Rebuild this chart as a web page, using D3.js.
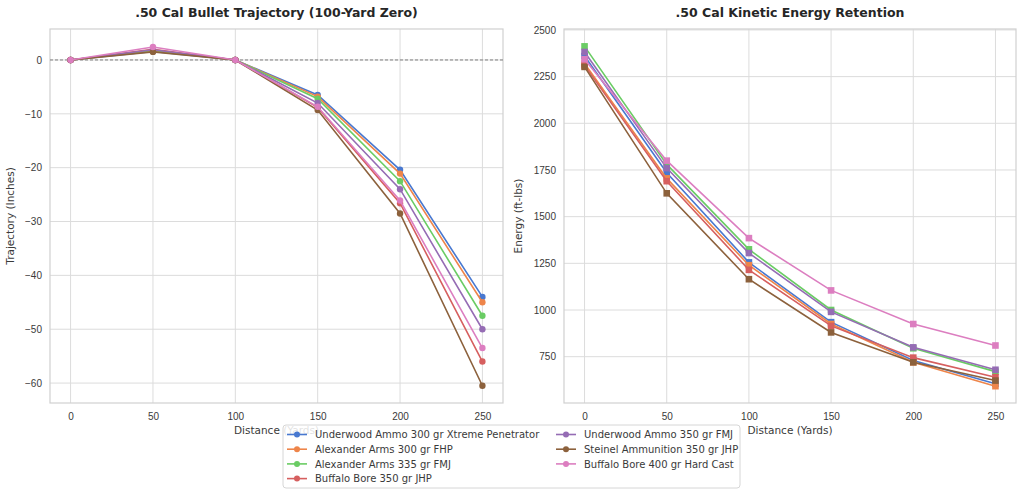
<!DOCTYPE html>
<html>
<head>
<meta charset="utf-8">
<script src="https://cdn.jsdelivr.net/npm/d3@7"></script>
<style>
  body { margin: 0; background: #fff; font-family: "DejaVu Sans", sans-serif; }
  .grid line { stroke: #dcdcdc; stroke-width: 1; }
  .tick text { fill: #3a3a3a; font-size: 10px; }
</style>
</head>
<body>
<svg id="chart" width="1024" height="495"></svg>
<script>
// distances (yards)
const distances = [0, 50, 100, 150, 200, 250];

const loads = [
  "Underwood Ammo 300 gr Xtreme Penetrator",
  "Alexander Arms 300 gr FHP",
  "Alexander Arms 335 gr FMJ",
  "Buffalo Bore 350 gr JHP",
  "Underwood Ammo 350 gr FMJ",
  "Steinel Ammunition 350 gr JHP",
  "Buffalo Bore 400 gr Hard Cast"
];

const colors = ["#4878d0", "#ee854a", "#6acc64", "#d65f5f", "#956cb4", "#8c613c", "#dc7ec0"];

// trajectory (inches), one array per load
const trajUnderwood300 = [0, 1.6, 0, -6.5, -20.4, -44.0];
const trajAlex300 = [0, 1.7, 0, -6.8, -21.1, -45.0];
const trajAlex335 = [0, 1.8, 0, -7.2, -22.5, -47.5];
const trajBuffalo350 = [0, 2.0, 0, -8.8, -26.6, -56.0];
const trajUnderwood350 = [0, 1.9, 0, -8.0, -24.0, -50.0];
const trajSteinel350 = [0, 1.5, 0, -9.3, -28.5, -60.5];
const trajBuffalo400 = [0, 2.4, 0, -8.7, -26.1, -53.5];

// energy (ft-lbs)
const enUnderwood300 = [2360, 1735, 1255, 935, 730, 605];
const enAlex300 = [2320, 1705, 1240, 925, 720, 592];
const enAlex335 = [2412, 1780, 1325, 1000, 795, 670];
const enBuffalo350 = [2310, 1690, 1215, 915, 745, 640];
const enUnderwood350 = [2382, 1760, 1305, 990, 800, 680];
const enSteinel350 = [2302, 1625, 1165, 880, 720, 622];
const enBuffalo400 = [2343, 1800, 1385, 1105, 925, 810];

const trajectories = [trajUnderwood300, trajAlex300, trajAlex335, trajBuffalo350, trajUnderwood350, trajSteinel350, trajBuffalo400];
const energies = [enUnderwood300, enAlex300, enAlex335, enBuffalo350, enUnderwood350, enSteinel350, enBuffalo400];

const yTicksTraj = [0, -10, -20, -30, -40, -50, -60];
const yTicksEnergy = [750, 1000, 1250, 1500, 1750, 2000, 2250, 2500];

const svg = d3.select('#chart');

function drawPanel(opts) {
    let { left, right, top, bottom, series, yDomain, yTicks, title, yLabel, marker } = opts;
    let x = d3.scaleLinear().domain([-12.5, 262.5]).range([left, right]);
    let y = d3.scaleLinear().domain(yDomain).range([bottom, top]);

    let g = svg.append('g');

    // grid
    let grid = g.append('g').classed('grid', true);
    grid.selectAll('.vx').data(distances).enter().append('line')
        .attr('x1', d => x(d)).attr('x2', d => x(d))
        .attr('y1', top).attr('y2', bottom);
    grid.selectAll('.hy').data(yTicks).enter().append('line')
        .attr('x1', left).attr('x2', right)
        .attr('y1', d => y(d)).attr('y2', d => y(d));

    // frame
    g.append('rect')
        .attr('x', left).attr('y', top)
        .attr('width', right - left).attr('height', bottom - top)
        .attr('fill', 'none').attr('stroke', '#d0d0d0').attr('stroke-width', 1.2);

    // axes
    g.append('g')
        .attr('transform', `translate(0,${bottom})`)
        .call(d3.axisBottom(x).tickValues(distances).tickSize(0).tickPadding(10))
        .call(a => a.select('.domain').remove());
    g.append('g')
        .attr('transform', `translate(${left},0)`)
        .call(d3.axisLeft(y).tickValues(yTicks).tickSize(0).tickPadding(8)
            .tickFormat(d => d < 0 ? '\u2212' + Math.abs(d) : d))
        .call(a => a.select('.domain').remove());

    if (opts.zeroLine) {
        g.append('line')
            .attr('x1', left).attr('x2', right)
            .attr('y1', y(0)).attr('y2', y(0))
            .attr('stroke', '#808080').attr('stroke-width', 1)
            .attr('stroke-dasharray', '3,2');
    }

    let line = d3.line().x((d, i) => x(distances[i])).y(d => y(d));

    series.forEach((vals, k) => {
        g.append('path')
            .attr('d', line(vals))
            .attr('fill', 'none')
            .attr('stroke', colors[k])
            .attr('stroke-width', 1.6);
        if (marker === 'circle') {
            g.selectAll(null).data(vals).enter().append('circle')
                .attr('cx', (d, i) => x(distances[i]))
                .attr('cy', d => y(d))
                .attr('r', 3.2)
                .attr('fill', colors[k]);
        } else {
            g.selectAll(null).data(vals).enter().append('rect')
                .attr('x', (d, i) => x(distances[i]) - 3.3)
                .attr('y', d => y(d) - 3.3)
                .attr('width', 6.6).attr('height', 6.6)
                .attr('fill', colors[k]);
        }
    });

    g.append('text')
        .attr('x', (left + right) / 2).attr('y', top - 12)
        .attr('text-anchor', 'middle')
        .attr('font-size', 12.5).attr('font-weight', 'bold').attr('fill', '#262626')
        .text(title);

    g.append('text')
        .attr('x', (left + right) / 2).attr('y', bottom + 31)
        .attr('text-anchor', 'middle')
        .attr('font-size', 10.5).attr('fill', '#3a3a3a')
        .text('Distance (Yards)');

    g.append('text')
        .attr('transform', `translate(${opts.yLabelX},${(top + bottom) / 2}) rotate(-90)`)
        .attr('text-anchor', 'middle')
        .attr('font-size', 10.5).attr('fill', '#3a3a3a')
        .text(yLabel);
}

drawPanel({
    left: 50, right: 503, top: 29, bottom: 403,
    series: trajectories, yDomain: [-63.7, 5.75], yTicks: yTicksTraj,
    title: '.50 Cal Bullet Trajectory (100-Yard Zero)',
    yLabel: 'Trajectory (Inches)', yLabelX: 14, marker: 'circle', zeroLine: true
});

drawPanel({
    left: 564, right: 1016, top: 29, bottom: 403,
    series: energies, yDomain: [502, 2505], yTicks: yTicksEnergy,
    title: '.50 Cal Kinetic Energy Retention',
    yLabel: 'Energy (ft-lbs)', yLabelX: 522, marker: 'square'
});

// legend
let legend = svg.append('g');
let lx = 283, ly = 425, lw = 457, lh = 63;
legend.append('rect')
    .attr('x', lx).attr('y', ly).attr('width', lw).attr('height', lh)
    .attr('rx', 3)
    .attr('fill', 'rgba(255,255,255,0.85)').attr('stroke', '#d6d6d6');

let items = legend.selectAll('.item')
    .data(loads)
    .enter()
    .append('g')
    .attr('transform', (d, i) => {
        let col = i < 4 ? 0 : 1;
        let row = i < 4 ? i : i - 4;
        return `translate(${lx + 4 + col * 269},${ly + 9.5 + row * 14.7})`;
    });

items.append('line')
    .attr('x1', 0).attr('x2', 20)
    .attr('stroke', (d, i) => colors[i]).attr('stroke-width', 1.6);
items.append('circle')
    .attr('cx', 10).attr('r', 3)
    .attr('fill', (d, i) => colors[i]);
items.append('text')
    .attr('x', 28).attr('y', 3.6)
    .attr('font-size', 10).attr('fill', '#3a3a3a')
    .text(d => d);
</script>
</body>
</html>
